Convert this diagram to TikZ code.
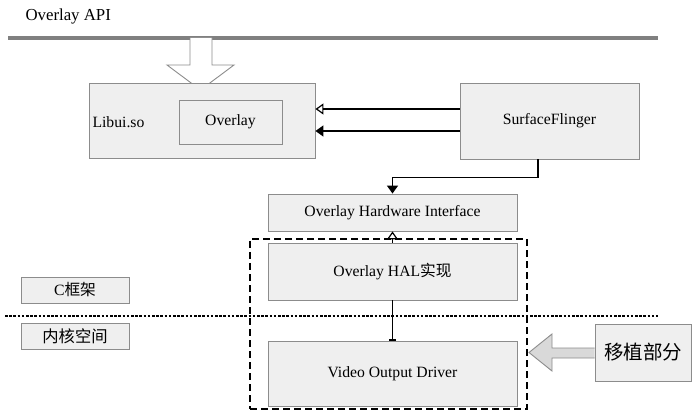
\documentclass[tikz,border=0pt]{standalone}
\usepackage{fontspec}
\setmainfont{Liberation Serif}
\newfontfamily\cjk{Noto Sans CJK SC}
\usetikzlibrary{arrows.meta,positioning}
\definecolor{BoxFill}{HTML}{EFEFEF}
\definecolor{BoxLine}{HTML}{8C8C8C}
\definecolor{BarGray}{HTML}{808080}
\definecolor{PortFill}{HTML}{D9D9D9}

\begin{document}
\begin{tikzpicture}[x=1pt, y=-1pt, font=\fontsize{15.7}{18}\selectfont,
  blk/.style={draw=BoxLine, fill=BoxFill, line width=0.9pt, inner sep=0pt},
  conn/.style={line width=1.5pt, black},
  solidtip/.tip={Triangle[length=8pt, width=11pt]},
  opentip/.tip={Triangle[open, length=8pt, width=11pt, line width=1.2pt]}]
  \useasboundingbox (0,0) rectangle (700,419);
  % API bar on top
  \node[anchor=west, font=\fontsize{16.8}{19}\selectfont] (api) at (22,16) {Overlay API};
  \draw[BarGray, line width=4.5pt] (8,38) -- (658,38);
  \draw[BoxLine, fill=white, line width=0.9pt]
    (190,38) -- (190,65) -- (167,65) -- (200.5,90) -- (234,65) -- (212,65) -- (212,38);
  % Libui.so with Overlay inside
  \node[blk, minimum width=226pt, minimum height=75pt] (libui) at (202,120.5) {};
  \node[anchor=west] (libuitext) at (89,122) {Libui.so};
  \node[blk, minimum width=103pt, minimum height=44pt] (overlay) at (230.5,122) {Overlay};
  \node[blk, minimum width=179pt, minimum height=76pt] (sf) at (549.5,121) {SurfaceFlinger};
  \draw[conn, -{opentip}] ([yshift=12pt]sf.west) -- ([yshift=12pt]sf.west -| libui.east);
  \draw[conn, -{solidtip}] ([yshift=-10pt]sf.west) -- ([yshift=-10pt]sf.west -| libui.east);
  % hardware interface and HAL
  \node[blk, minimum width=249pt, minimum height=37pt] (hwi) at (392.5,212.5) {Overlay Hardware Interface};
  \draw[conn, -{solidtip}] ([xshift=-11.5pt]sf.south) -- ++(0,18) -| (hwi.north);
  \node[draw, dashed, line width=1.6pt, dash pattern=on 7pt off 4pt, minimum width=277pt, minimum height=170pt] (impl) at (388.5,324) {};
  \node[blk, minimum width=249pt, minimum height=57pt] (hal) at (392.5,271.5) {Overlay HAL{\cjk 实现}};
  \node[blk, minimum width=249pt, minimum height=65pt] (vod) at (392.5,373.5) {Video Output Driver};
  \draw[conn, -{opentip}] (hal.north) -- (hwi.south);
  \draw[conn, -{Bar[width=7pt, line width=1.2pt]}] (hal.south) -- (vod.north);
  % user space / kernel split
  \draw[line width=2.6pt, dash pattern=on 2.6pt off 1.6pt] (5,316) -- (658,316);
  \node[blk, minimum width=108pt, minimum height=26pt] (cfw) at (75,290) {C{\cjk 框架}};
  \node[blk, minimum width=108pt, minimum height=26pt, font=\cjk\fontsize{16.3}{18}\selectfont] (kern) at (75,336) {内核空间};
  % ported part
  \node[blk, minimum width=96pt, minimum height=57pt, font=\cjk\fontsize{19.5}{22}\selectfont] (port) at (643,352.5) {移植部分};
  \draw[BoxLine, fill=PortFill, line width=0.9pt]
    (port.west |- 0,348) -- (552,348) -- (552,334) -- (529,352.5) -- (552,371) -- (552,358) -- (port.west |- 0,358);
\end{tikzpicture}
\end{document}
